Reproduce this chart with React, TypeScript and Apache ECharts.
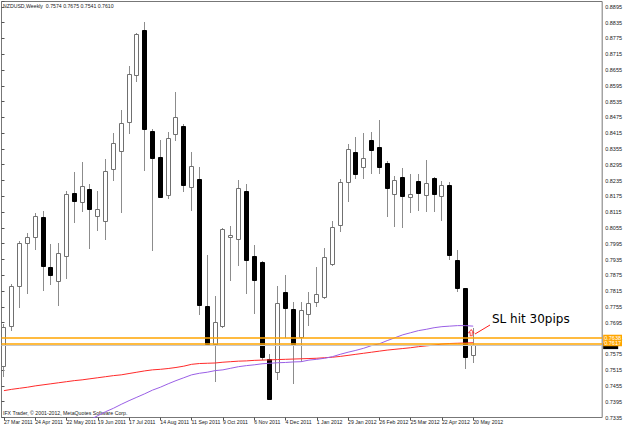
import React, { useEffect, useRef } from "react";
import * as echarts from "echarts";

const weeks = [
  "27 Mar 2011", "3 Apr 2011", "10 Apr 2011", "17 Apr 2011", "24 Apr 2011", "1 May 2011", "8 May 2011", "15 May 2011",
  "22 May 2011", "29 May 2011", "5 Jun 2011", "12 Jun 2011", "19 Jun 2011", "26 Jun 2011", "3 Jul 2011", "10 Jul 2011",
  "17 Jul 2011", "24 Jul 2011", "31 Jul 2011", "7 Aug 2011", "14 Aug 2011", "21 Aug 2011", "28 Aug 2011", "4 Sep 2011",
  "11 Sep 2011", "18 Sep 2011", "25 Sep 2011", "2 Oct 2011", "9 Oct 2011", "16 Oct 2011", "23 Oct 2011", "30 Oct 2011",
  "6 Nov 2011", "13 Nov 2011", "20 Nov 2011", "27 Nov 2011", "4 Dec 2011", "11 Dec 2011", "18 Dec 2011", "25 Dec 2011",
  "1 Jan 2012", "8 Jan 2012", "15 Jan 2012", "22 Jan 2012", "29 Jan 2012", "5 Feb 2012", "12 Feb 2012", "19 Feb 2012",
  "26 Feb 2012", "4 Mar 2012", "11 Mar 2012", "18 Mar 2012", "25 Mar 2012", "1 Apr 2012", "8 Apr 2012", "15 Apr 2012",
  "22 Apr 2012", "29 Apr 2012", "6 May 2012", "13 May 2012", "20 May 2012",
];

const opens = [
  0.7531, 0.7681, 0.7833, 0.7998, 0.8019, 0.8095, 0.7908, 0.7852, 0.7948, 0.8186,
  0.8153, 0.8203, 0.8099, 0.8082, 0.8279, 0.8348, 0.8458, 0.8637, 0.8807, 0.8424,
  0.8323, 0.8180, 0.8412, 0.8443, 0.8209, 0.8241, 0.7758, 0.7614, 0.7681, 0.8019,
  0.8013, 0.8194, 0.7948, 0.7924, 0.7557, 0.7506, 0.7813, 0.7747, 0.7639, 0.7728,
  0.7772, 0.7791, 0.7918, 0.8067, 0.8228, 0.8342, 0.8287, 0.8389, 0.8364, 0.8303,
  0.8184, 0.8249, 0.8171, 0.8233, 0.8181, 0.8244, 0.8175, 0.8218, 0.7933, 0.7825,
  0.7574,
];
const highs = [
  0.7691, 0.7842, 0.8006, 0.8036, 0.8110, 0.8120, 0.7994, 0.7998, 0.8196, 0.8266,
  0.8304, 0.8222, 0.8194, 0.8317, 0.8414, 0.8503, 0.8671, 0.8797, 0.8839, 0.8431,
  0.8390, 0.8418, 0.8573, 0.8450, 0.8342, 0.8285, 0.7952, 0.7795, 0.8055, 0.8063,
  0.8237, 0.8222, 0.7991, 0.7930, 0.7578, 0.7835, 0.7876, 0.7772, 0.7772, 0.7810,
  0.7905, 0.7979, 0.8082, 0.8241, 0.8374, 0.8401, 0.8415, 0.8421, 0.8466, 0.8310,
  0.8253, 0.8282, 0.8260, 0.8260, 0.8313, 0.8249, 0.8232, 0.8230, 0.7971, 0.7826,
  0.7675,
];
const lows = [
  0.7490, 0.7665, 0.7751, 0.7804, 0.7971, 0.7816, 0.7838, 0.7757, 0.7861, 0.8072,
  0.8116, 0.7975, 0.8044, 0.8009, 0.8234, 0.8110, 0.8412, 0.8608, 0.8272, 0.7966,
  0.8170, 0.8165, 0.8386, 0.8190, 0.8120, 0.7725, 0.7608, 0.7468, 0.7675, 0.7854,
  0.7911, 0.7804, 0.7730, 0.7553, 0.7401, 0.7477, 0.7637, 0.7462, 0.7544, 0.7683,
  0.7753, 0.7785, 0.7911, 0.8038, 0.8152, 0.8241, 0.8241, 0.8260, 0.8261, 0.8095,
  0.8057, 0.8055, 0.8110, 0.8118, 0.8114, 0.8114, 0.8082, 0.7933, 0.7810, 0.7519,
  0.7541,
];
const closes = [
  0.7677, 0.7833, 0.7998, 0.8019, 0.8099, 0.7911, 0.7876, 0.7960, 0.8184, 0.8156,
  0.8215, 0.8127, 0.8127, 0.8272, 0.8377, 0.8453, 0.8639, 0.8791, 0.8431, 0.8320,
  0.8173, 0.8396, 0.8477, 0.8219, 0.8291, 0.7763, 0.7616, 0.7696, 0.8051, 0.8028,
  0.8205, 0.7933, 0.7858, 0.7566, 0.7405, 0.7770, 0.7749, 0.7616, 0.7743, 0.7770,
  0.7804, 0.7943, 0.8059, 0.8228, 0.8355, 0.8260, 0.8319, 0.8351, 0.8287, 0.8206,
  0.8238, 0.8176, 0.8182, 0.8189, 0.8224, 0.8182, 0.8218, 0.7953, 0.7827, 0.7563,
  0.7610,
];

const maRed = [
  0.7437, 0.7442, 0.7446, 0.7450, 0.7455, 0.7459, 0.7463, 0.7467, 0.7471, 0.7475,
  0.7478, 0.7482, 0.7486, 0.7490, 0.7494, 0.7497, 0.7502, 0.7507, 0.7512, 0.7516,
  0.7518, 0.7521, 0.7525, 0.7530, 0.7537, 0.7540, 0.7541, 0.7542, 0.7545, 0.7547,
  0.7549, 0.7550, 0.7552, 0.7553, 0.7554, 0.7555, 0.7556, 0.7557, 0.7558, 0.7559,
  0.7560, 0.7562, 0.7564, 0.7567, 0.7571, 0.7575, 0.7579, 0.7583, 0.7587, 0.7591,
  0.7594, 0.7597, 0.7600, 0.7604, 0.7607, 0.7610, 0.7614, 0.7616, 0.7617, 0.7618,
  0.7619,
];
const maPurple = [
  null, null, null, null, null, null, null, null, null, null,
  0.7315, 0.7326, 0.7342, 0.7357, 0.7370, 0.7385, 0.7399, 0.7412, 0.7425, 0.7439,
  0.7450, 0.7463, 0.7475, 0.7486, 0.7497, 0.7503, 0.7507, 0.7513, 0.7516, 0.7522,
  0.7528, 0.7532, 0.7535, 0.7539, 0.7541, 0.7543, 0.7544, 0.7546, 0.7547, 0.7553,
  0.7556, 0.7560, 0.7566, 0.7575, 0.7583, 0.7590, 0.7598, 0.7608, 0.7615, 0.7627,
  0.7638, 0.7649, 0.7657, 0.7665, 0.7670, 0.7676, 0.7680, 0.7682, 0.7684, 0.7684,
  0.7682,
];

const levelUpper = 0.7638;
const levelLower = 0.7617;
const bidPrice = 0.7610;
const slMark = 0.7657;
const yMin = 0.7335;
const yMax = 0.8915;
const yStep = 0.006;
const futureSlots = 17;

const smallFont = "'Liberation Sans', Arial, sans-serif";

export default function App() {
  const ref = useRef<HTMLDivElement>(null);
  useEffect(() => {
    document.body.style.margin = "0";
    const chart = echarts.init(ref.current!, null, { renderer: "svg" });
    const cats = [...weeks, ...Array.from({ length: futureSlots }, (_, i) => "~" + i)];
    const candleData = weeks.map((_, i) => [i, opens[i], closes[i], lows[i], highs[i]]);
    const showIdx = (i: number) => i % 4 === 0 && i < weeks.length;
    const last = weeks.length - 1;
    const header = `NZDUSD,Weekly  ${opens[last].toFixed(4)} ${highs[last].toFixed(4)} ${lows[last].toFixed(4)} ${closes[last].toFixed(4)}`;

    const option: any = {
      animation: false,
      backgroundColor: "#ffffff",
      textStyle: { fontFamily: smallFont },
      grid: [
        { left: -2.43, top: 1.5, bottom: 8.5, width: 612.5 },
        { left: 1.5, top: 1.5, right: 18.5, bottom: 8.5, show: true, borderColor: "#777", borderWidth: 1, backgroundColor: "transparent" },
      ],
      xAxis: [
        {
          type: "category", gridIndex: 0, data: cats, boundaryGap: true,
          axisLine: { show: false },
          axisTick: { show: true, interval: (i: number) => showIdx(i), alignWithLabel: true, length: 3, lineStyle: { color: "#555" } },
          axisLabel: { interval: (i: number) => showIdx(i), showMinLabel: true, align: "left", fontSize: 5.2, margin: 2, color: "#222", fontFamily: smallFont },
          splitLine: { show: false },
        },
        { type: "value", gridIndex: 1, min: 0, max: 1, show: false },
      ],
      yAxis: [
        { type: "value", gridIndex: 0, min: yMin, max: yMax, show: false },
        {
          type: "value", gridIndex: 1, position: "right", min: yMin, max: yMax, interval: yStep,
          axisLine: { show: false },
          axisTick: { show: true, length: 3, lineStyle: { color: "#555" } },
          axisLabel: { fontSize: 5.5, margin: 3, color: "#222", fontFamily: smallFont, formatter: (v: number) => (v > 0.89 ? "" : v.toFixed(4)) },
          splitLine: { show: false },
        },
      ],
      series: [
        {
          type: "custom", xAxisIndex: 0, yAxisIndex: 0, data: candleData, z: 2,
          encode: { x: 0, y: [1, 2, 3, 4] },
          renderItem: (params: any, api: any) => {
            const idx = api.value(0);
            const o = api.value(1), c = api.value(2), l = api.value(3), h = api.value(4);
            const pO = api.coord([idx, o]);
            const pC = api.coord([idx, c]);
            const pL = api.coord([idx, l]);
            const pH = api.coord([idx, h]);
            const cx = Math.floor(pO[0]);
            const bull = c >= o;
            const yTop = Math.round(Math.min(pO[1], pC[1])) + 0.5;
            const yBot = Math.max(Math.round(Math.max(pO[1], pC[1])) + 0.5, yTop + 1);
            return {
              type: "group",
              children: [
                { type: "line", shape: { x1: cx + 0.5, y1: Math.round(pH[1]), x2: cx + 0.5, y2: Math.round(pL[1]) }, style: { stroke: "#8c8c8c", lineWidth: 1 } },
                { type: "rect", shape: { x: cx - 1.5, y: yTop, width: 4, height: yBot - yTop }, style: { fill: bull ? "#ffffff" : "#000000", stroke: bull ? "#707070" : "#000000", lineWidth: 1 } },
              ],
            };
          },
        },
        {
          type: "line", xAxisIndex: 0, yAxisIndex: 0, data: maRed, symbol: "none", z: 3,
          lineStyle: { color: "#ff2a2a", width: 1 },
        },
        {
          type: "line", xAxisIndex: 0, yAxisIndex: 0, data: maPurple, symbol: "none", z: 3, connectNulls: false,
          lineStyle: { color: "#9a5fe6", width: 1 },
        },
        {
          type: "scatter", xAxisIndex: 0, yAxisIndex: 0, z: 4,
          data: [[last, slMark]],
          symbol: "path://M5,0 L10,5 L7,5 L7,10 L3,10 L3,5 L0,5 Z",
          symbolSize: [5, 6], symbolOffset: [-2, 0],
          itemStyle: { color: "rgba(255,255,255,0)", borderColor: "#ff2020", borderWidth: 1 },
        },
        {
          type: "line", xAxisIndex: 1, yAxisIndex: 1, data: [[0, 0.76], [1, 0.76]], symbol: "none", silent: true, z: 5,
          lineStyle: { opacity: 0 },
          markLine: {
            silent: true, symbol: ["none", "none"], animation: false, precision: 4,
            label: {
              show: true, position: "end", distance: 1, fontSize: 5.5, color: "#ffffff", fontFamily: smallFont,
              padding: [0, 1, 0, 1], lineHeight: 6,
              formatter: (p: any) => Number(p.value).toFixed(4),
            },
            data: [
              {
                yAxis: bidPrice, lineStyle: { color: "#c8c8c8", width: 1, type: "solid" },
                label: { backgroundColor: "#000000", formatter: " ", width: 15, height: 6, padding: 0, offset: [0, 1] },
              },
              { yAxis: levelLower, lineStyle: { color: "#ffa500", width: 1.5, type: "solid" }, label: { backgroundColor: "#ffa500" } },
              { yAxis: levelUpper, lineStyle: { color: "#ffa500", width: 1.5, type: "solid" }, label: { backgroundColor: "#ffa500" } },
            ],
          },
        },
      ],
      graphic: [
        { type: "text", left: 3, top: 3, style: { text: header, fontSize: 5.2, fill: "#222", fontFamily: smallFont } },
        { type: "text", left: 3, top: 410, style: { text: "IFX Trader, \u00a9 2001-2012, MetaQuotes Software Corp.", fontSize: 5.2, fill: "#222", fontFamily: smallFont } },
        { type: "line", shape: { x1: 475, y1: 334, x2: 490, y2: 325 }, style: { stroke: "#ff2020", lineWidth: 1 } },
        { type: "text", left: 492, top: 313, style: { text: "SL hit 30pips", fontSize: 12, fill: "#000", fontFamily: "'DejaVu Sans', sans-serif" } },
      ],
    };
    chart.setOption(option);
    return () => chart.dispose();
  }, []);
  return <div ref={ref} style={{ width: 625, height: 426 }} />;
}
